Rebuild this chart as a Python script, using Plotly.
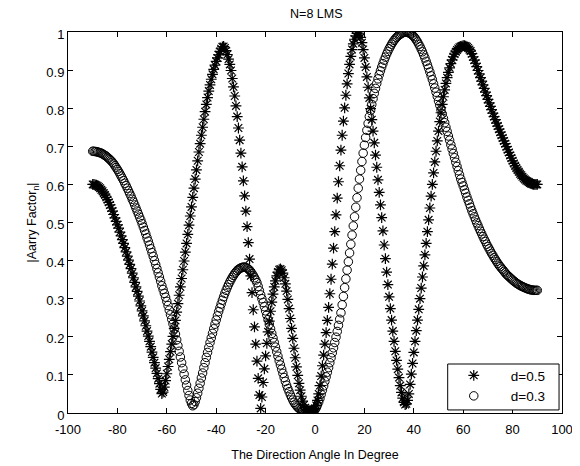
import numpy as np
import plotly.graph_objects as go

# direction angle, degrees (0.5 degree steps)
angle_deg = np.arange(-90, 90.5, 0.5)

# |array factor|, spacing d = 0.5 (stars)
af_d05 = [
    0.600, 0.600, 0.599, 0.598, 0.596, 0.593, 0.590, 0.586, 0.582, 0.577,  # -90
    0.572, 0.566, 0.560, 0.553, 0.546, 0.538, 0.530, 0.521, 0.512, 0.503,  # -85
    0.494, 0.485, 0.475, 0.465, 0.455, 0.445, 0.434, 0.423, 0.412, 0.401,  # -80
    0.390, 0.379, 0.367, 0.355, 0.343, 0.331, 0.319, 0.307, 0.294, 0.281,  # -75
    0.268, 0.255, 0.242, 0.229, 0.215, 0.202, 0.188, 0.174, 0.160, 0.146,  # -70
    0.132, 0.118, 0.104, 0.090, 0.077, 0.062, 0.051, 0.055, 0.068, 0.085,  # -65
    0.103, 0.122, 0.141, 0.161, 0.181, 0.201, 0.222, 0.243, 0.265, 0.287,  # -60
    0.309, 0.331, 0.353, 0.376, 0.399, 0.422, 0.445, 0.469, 0.493, 0.517,  # -55
    0.541, 0.566, 0.590, 0.614, 0.638, 0.662, 0.685, 0.707, 0.729, 0.750,  # -50
    0.771, 0.791, 0.810, 0.828, 0.845, 0.861, 0.876, 0.889, 0.902, 0.913,  # -45
    0.923, 0.932, 0.940, 0.949, 0.956, 0.961, 0.962, 0.958, 0.951, 0.941,  # -40
    0.929, 0.915, 0.899, 0.878, 0.856, 0.832, 0.806, 0.778, 0.748, 0.716,  # -35
    0.682, 0.646, 0.609, 0.570, 0.530, 0.489, 0.447, 0.404, 0.360, 0.316,  # -30
    0.271, 0.226, 0.181, 0.136, 0.091, 0.047, 0.012, 0.042, 0.080, 0.116,  # -25
    0.150, 0.183, 0.213, 0.241, 0.267, 0.291, 0.312, 0.331, 0.347, 0.360,  # -20
    0.370, 0.376, 0.378, 0.375, 0.367, 0.355, 0.339, 0.320, 0.298, 0.274,  # -15
    0.248, 0.222, 0.196, 0.170, 0.145, 0.121, 0.099, 0.078, 0.060, 0.044,  # -10
    0.031, 0.021, 0.014, 0.009, 0.006, 0.005, 0.005, 0.006, 0.007, 0.009,  # -5
    0.012, 0.020, 0.033, 0.050, 0.072, 0.097, 0.124, 0.152, 0.181, 0.211,  # 0
    0.243, 0.277, 0.313, 0.351, 0.391, 0.433, 0.476, 0.520, 0.564, 0.607,  # 5
    0.649, 0.690, 0.729, 0.766, 0.801, 0.834, 0.864, 0.891, 0.915, 0.936,  # 10
    0.954, 0.969, 0.981, 0.990, 0.996, 1.000, 0.995, 0.986, 0.972, 0.954,  # 15
    0.932, 0.908, 0.882, 0.855, 0.827, 0.799, 0.770, 0.740, 0.709, 0.677,  # 20
    0.645, 0.612, 0.579, 0.546, 0.513, 0.478, 0.441, 0.405, 0.370, 0.337,  # 25
    0.305, 0.274, 0.244, 0.215, 0.188, 0.162, 0.138, 0.115, 0.093, 0.072,  # 30
    0.054, 0.039, 0.028, 0.022, 0.024, 0.033, 0.050, 0.075, 0.102, 0.130,  # 35
    0.159, 0.188, 0.216, 0.244, 0.272, 0.300, 0.328, 0.357, 0.386, 0.415,  # 40
    0.445, 0.476, 0.507, 0.538, 0.569, 0.600, 0.630, 0.659, 0.687, 0.714,  # 45
    0.740, 0.765, 0.788, 0.810, 0.830, 0.848, 0.865, 0.880, 0.894, 0.906,  # 50
    0.917, 0.927, 0.935, 0.942, 0.948, 0.953, 0.957, 0.960, 0.962, 0.963,  # 55
    0.964, 0.964, 0.963, 0.961, 0.958, 0.954, 0.950, 0.943, 0.935, 0.926,  # 60
    0.918, 0.909, 0.899, 0.890, 0.880, 0.871, 0.861, 0.852, 0.842, 0.833,  # 65
    0.823, 0.814, 0.805, 0.796, 0.787, 0.778, 0.770, 0.761, 0.753, 0.745,  # 70
    0.737, 0.729, 0.722, 0.714, 0.707, 0.699, 0.691, 0.684, 0.676, 0.669,  # 75
    0.662, 0.655, 0.649, 0.643, 0.638, 0.633, 0.628, 0.624, 0.620, 0.616,  # 80
    0.613, 0.610, 0.608, 0.606, 0.604, 0.602, 0.601, 0.600, 0.600, 0.600,  # 85
    0.600,                                                                 # 90
]

# |array factor|, spacing d = 0.3 (circles)
af_d03 = [
    0.687, 0.687, 0.686, 0.686, 0.685, 0.684, 0.683, 0.682, 0.680, 0.678,  # -90
    0.676, 0.674, 0.671, 0.668, 0.665, 0.662, 0.658, 0.654, 0.649, 0.644,  # -85
    0.639, 0.634, 0.628, 0.622, 0.616, 0.610, 0.603, 0.597, 0.590, 0.583,  # -80
    0.576, 0.569, 0.561, 0.554, 0.546, 0.538, 0.530, 0.522, 0.514, 0.506,  # -75
    0.497, 0.488, 0.479, 0.470, 0.460, 0.451, 0.441, 0.431, 0.421, 0.411,  # -70
    0.400, 0.390, 0.379, 0.368, 0.357, 0.346, 0.334, 0.324, 0.314, 0.304,  # -65
    0.293, 0.282, 0.270, 0.258, 0.246, 0.234, 0.221, 0.207, 0.192, 0.177,  # -60
    0.162, 0.147, 0.132, 0.117, 0.102, 0.087, 0.073, 0.059, 0.046, 0.034,  # -55
    0.025, 0.019, 0.022, 0.030, 0.040, 0.052, 0.065, 0.078, 0.092, 0.105,  # -50
    0.119, 0.132, 0.146, 0.159, 0.172, 0.185, 0.197, 0.209, 0.221, 0.233,  # -45
    0.244, 0.255, 0.266, 0.276, 0.286, 0.296, 0.305, 0.314, 0.322, 0.330,  # -40
    0.337, 0.344, 0.350, 0.356, 0.361, 0.366, 0.370, 0.374, 0.377, 0.379,  # -35
    0.381, 0.382, 0.383, 0.383, 0.382, 0.380, 0.378, 0.375, 0.371, 0.366,  # -30
    0.361, 0.355, 0.349, 0.342, 0.332, 0.321, 0.310, 0.300, 0.290, 0.279,  # -25
    0.268, 0.257, 0.245, 0.233, 0.221, 0.209, 0.197, 0.185, 0.173, 0.161,  # -20
    0.149, 0.137, 0.126, 0.115, 0.104, 0.093, 0.083, 0.073, 0.064, 0.056,  # -15
    0.048, 0.041, 0.034, 0.028, 0.023, 0.019, 0.015, 0.012, 0.010, 0.009,  # -10
    0.008, 0.007, 0.006, 0.005, 0.005, 0.005, 0.005, 0.006, 0.006, 0.007,  # -5
    0.009, 0.014, 0.021, 0.029, 0.038, 0.049, 0.060, 0.071, 0.083, 0.095,  # 0
    0.107, 0.119, 0.132, 0.145, 0.158, 0.171, 0.185, 0.199, 0.214, 0.230,  # 5
    0.246, 0.263, 0.284, 0.306, 0.329, 0.352, 0.375, 0.397, 0.420, 0.443,  # 10
    0.467, 0.491, 0.515, 0.540, 0.565, 0.590, 0.614, 0.637, 0.660, 0.682,  # 15
    0.703, 0.723, 0.742, 0.760, 0.778, 0.794, 0.810, 0.825, 0.839, 0.852,  # 20
    0.865, 0.877, 0.888, 0.898, 0.908, 0.917, 0.926, 0.934, 0.942, 0.949,  # 25
    0.956, 0.962, 0.968, 0.973, 0.978, 0.982, 0.986, 0.989, 0.992, 0.994,  # 30
    0.996, 0.998, 0.999, 1.000, 1.000, 0.999, 0.998, 0.996, 0.994, 0.991,  # 35
    0.988, 0.984, 0.979, 0.974, 0.968, 0.962, 0.955, 0.948, 0.940, 0.932,  # 40
    0.923, 0.914, 0.905, 0.895, 0.885, 0.875, 0.864, 0.853, 0.842, 0.831,  # 45
    0.819, 0.808, 0.796, 0.785, 0.773, 0.762, 0.750, 0.739, 0.727, 0.716,  # 50
    0.704, 0.693, 0.681, 0.670, 0.658, 0.647, 0.636, 0.625, 0.614, 0.605,  # 55
    0.596, 0.586, 0.577, 0.567, 0.558, 0.549, 0.540, 0.531, 0.523, 0.515,  # 60
    0.507, 0.499, 0.492, 0.484, 0.477, 0.470, 0.463, 0.456, 0.450, 0.443,  # 65
    0.437, 0.431, 0.425, 0.419, 0.414, 0.408, 0.403, 0.398, 0.393, 0.388,  # 70
    0.384, 0.380, 0.376, 0.372, 0.368, 0.364, 0.361, 0.358, 0.355, 0.352,  # 75
    0.349, 0.346, 0.344, 0.341, 0.339, 0.337, 0.335, 0.333, 0.332, 0.330,  # 80
    0.329, 0.327, 0.326, 0.325, 0.324, 0.323, 0.323, 0.322, 0.322, 0.322,  # 85
    0.322,                                                                 # 90
]

x_ticks = [-100, -80, -60, -40, -20, 0, 20, 40, 60, 80, 100]
x_labels = ["-100", "-80", "-60", "-40", "-20", "0", "20", "40", "60", "80", "100"]
y_ticks = [0, 0.1, 0.2, 0.3, 0.4, 0.5, 0.6, 0.7, 0.8, 0.9, 1]
y_labels = ["0", "0.1", "0.2", "0.3", "0.4", "0.5", "0.6", "0.7", "0.8", "0.9", "1"]

assert len(af_d05) == len(angle_deg) and len(af_d03) == len(angle_deg)

font = "Liberation Sans, Arial, sans-serif"

fig = go.Figure()
fig.add_trace(go.Scatter(x=angle_deg, y=af_d05, mode="markers", name="d=0.5",
                         marker=dict(symbol="asterisk-open", size=9, color="black",
                                     line=dict(color="black", width=1.2))))
fig.add_trace(go.Scatter(x=angle_deg, y=af_d03, mode="markers", name="d=0.3",
                         marker=dict(symbol="circle-open", size=8.5, color="black",
                                     line=dict(color="black", width=1))))

axis_style = dict(showline=True, linecolor="black", linewidth=1, mirror="ticks",
                  ticks="inside", ticklen=5, tickcolor="black", showgrid=False,
                  zeroline=False, ticklabeloverflow="allow",
                  tickfont=dict(family=font, size=13, color="black"))

# page body keeps its default 8 px margin; this size lands the axes where the original has them
fig.update_layout(
    width=572, height=458,
    margin=dict(l=60, r=7, t=24, b=45),
    paper_bgcolor="white", plot_bgcolor="white",
    font=dict(family=font, size=12.5, color="black"),
    title=dict(text="N=8 LMS", x=0.539, xanchor="center", y=0.987, yanchor="middle",
               font=dict(family=font, size=12.5, color="black")),
    xaxis=dict(range=[-100, 100], tickvals=x_ticks, ticktext=x_labels,
               ticklabelstandoff=4,
               title=dict(text="The Direction Angle In Degree", standoff=14,
                          font=dict(family=font, size=12.5, color="black")),
               **axis_style),
    yaxis=dict(range=[0, 1], tickvals=y_ticks, ticktext=y_labels,
               ticklabelshift=2,
               title=dict(text="|Aarry Factor<sub>n</sub>|", standoff=6,
                          font=dict(family=font, size=12.5, color="black")),
               **axis_style),
    # legend frame drawn as a box, entries placed inside it
    shapes=[dict(type="rect", xref="paper", yref="paper",
                 x0=0.7686, x1=0.994, y0=0.008, y1=0.1286,
                 line=dict(color="black", width=1), fillcolor="white", layer="above")],
    legend=dict(x=0.7465, xanchor="left", y=0.139, yanchor="top",
                bgcolor="rgba(0,0,0,0)", borderwidth=0,
                itemwidth=64, font=dict(family=font, size=13.5, color="black")),
)

fig.write_html("out.html", config={"displayModeBar": False})
